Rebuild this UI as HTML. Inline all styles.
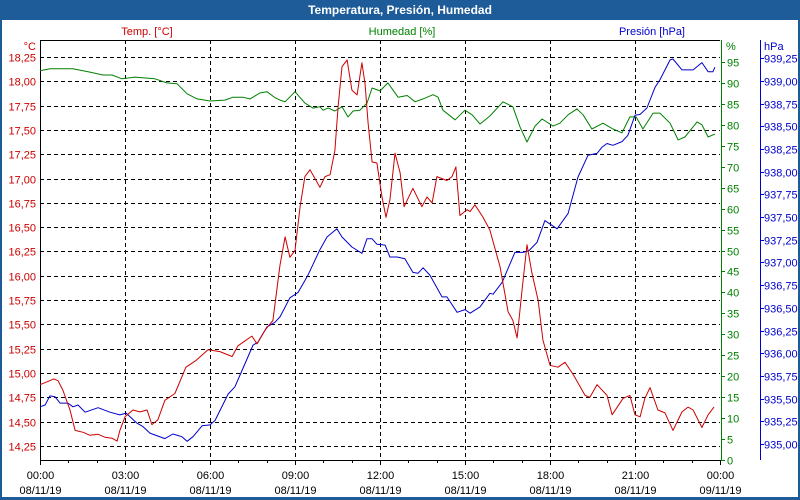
<!DOCTYPE html>
<html><head><meta charset="utf-8"><style>
html,body{margin:0;padding:0;background:#fff;}
svg{display:block;font-family:"Liberation Sans",sans-serif;}
</style></head><body>
<svg id="chart" width="800" height="500" viewBox="0 0 800 500">
<rect x="0" y="0" width="800" height="500" fill="#1d5c98"/>
<rect x="2" y="20" width="796" height="477" fill="#ffffff"/>
<text x="400" y="14" text-anchor="middle" font-size="12" font-weight="bold" fill="#fff">Temperatura, Presión, Humedad</text>
<text x="147" y="35" text-anchor="middle" font-size="11" fill="#cc0000">Temp. [°C]</text>
<text x="402" y="35" text-anchor="middle" font-size="11" fill="#008000">Humedad [%]</text>
<text x="685" y="35" text-anchor="end" font-size="11" fill="#0000cc">Presión [hPa]</text>
<text x="36" y="50" text-anchor="end" font-size="11" fill="#cc0000">°C</text>
<text x="726" y="50" font-size="11" fill="#008000">%</text>
<text x="764" y="50" font-size="11" fill="#0000cc">hPa</text>
<g id="grid"></g>
<g id="axes"></g>
<g id="series"></g>
</svg>
<script>
const tempH=[0,0.25,0.49,0.64,0.81,1.06,1.24,1.52,1.76,2.05,2.29,2.54,2.72,2.82,3.00,3.28,3.53,3.78,3.95,4.16,4.41,4.76,5.15,5.51,5.93,6.35,6.78,6.99,7.48,7.66,7.94,8.22,8.47,8.65,8.82,9.00,9.18,9.35,9.53,9.88,10.06,10.24,10.41,10.52,10.66,10.84,11.01,11.19,11.36,11.47,11.58,11.72,11.89,12.07,12.21,12.35,12.53,12.71,12.85,13.16,13.48,13.66,13.84,14.01,14.36,14.54,14.68,14.82,15.07,15.18,15.35,15.64,15.88,16.24,16.52,16.69,16.84,17.01,17.19,17.36,17.58,17.75,18.00,18.28,18.53,18.81,19.24,19.41,19.66,20.01,20.19,20.58,20.82,21.00,21.18,21.35,21.53,21.81,22.06,22.34,22.66,22.87,23.05,23.36,23.58,23.79];
const tempV=[14.88,14.91,14.94,14.92,14.82,14.62,14.41,14.39,14.36,14.37,14.34,14.33,14.30,14.41,14.55,14.62,14.60,14.62,14.47,14.52,14.72,14.79,15.06,15.13,15.24,15.22,15.17,15.28,15.38,15.30,15.44,15.54,16.11,16.40,16.19,16.26,16.71,17.02,17.09,16.91,17.02,17.04,17.29,17.74,18.15,18.22,17.91,17.86,18.19,17.98,17.57,17.17,17.16,16.81,16.60,16.78,17.26,17.06,16.71,16.90,16.71,16.81,16.75,17.02,16.98,17.02,17.12,16.62,16.68,16.66,16.73,16.60,16.47,16.09,15.63,15.54,15.36,15.85,16.32,16.03,15.75,15.34,15.08,15.06,15.11,14.99,14.77,14.75,14.88,14.77,14.57,14.74,14.77,14.57,14.55,14.74,14.85,14.62,14.59,14.41,14.60,14.65,14.62,14.44,14.57,14.65];
const humH=[0,0.35,1.16,1.76,2.22,2.54,2.89,3.35,4.06,4.48,4.84,5.19,5.54,6.00,6.53,6.81,7.16,7.41,7.76,8.01,8.29,8.47,8.65,9.00,9.35,9.63,9.88,9.99,10.17,10.41,10.66,10.87,11.05,11.29,11.54,11.72,12.00,12.28,12.64,12.96,13.24,13.52,13.87,14.05,14.22,14.65,15.00,15.25,15.53,15.88,16.34,16.69,16.94,17.19,17.47,17.72,18.11,18.35,18.64,18.95,19.17,19.48,19.87,20.22,20.54,20.82,21.04,21.28,21.64,21.88,22.24,22.52,22.76,23.19,23.36,23.58,23.82];
const humV=[92.9,93.4,93.4,92.6,91.9,91.9,91.0,91.4,91.0,90.0,89.8,87.4,86.2,85.7,85.9,86.6,86.6,86.2,87.6,87.9,86.5,85.9,85.5,87.9,85.2,84.0,84.3,83.5,84.0,83.3,84.3,81.9,83.3,83.5,85.2,88.8,88.1,90.0,86.6,87.0,85.5,86.2,87.2,86.6,83.5,81.2,83.5,82.4,80.2,82.1,85.5,84.3,79.5,75.9,79.7,81.4,79.7,80.4,82.4,83.8,82.4,79.0,80.4,79.0,78.1,81.9,81.9,79.0,82.8,82.8,80.4,76.4,77.1,80.7,80.0,77.1,77.8];
const presH=[0,0.18,0.35,0.53,0.71,0.99,1.16,1.34,1.59,2.05,2.47,2.82,3.04,3.42,3.64,3.88,4.41,4.69,5.01,5.19,5.40,5.72,6.00,6.18,6.64,6.88,7.13,7.52,7.69,8.01,8.29,8.47,8.82,9.11,9.46,9.88,10.13,10.48,10.66,11.01,11.36,11.54,11.72,11.89,12.18,12.35,12.60,12.88,13.16,13.34,13.52,13.76,14.19,14.36,14.72,15.00,15.18,15.53,15.88,15.99,16.31,16.76,17.05,17.26,17.54,17.82,18.25,18.64,18.99,19.34,19.66,19.84,20.01,20.22,20.54,20.75,21.00,21.18,21.42,21.71,21.88,22.24,22.34,22.66,23.05,23.36,23.58,23.75,23.82];
const presV=[935.41,935.43,935.53,935.52,935.45,935.45,935.41,935.43,935.35,935.40,935.35,935.32,935.34,935.23,935.19,935.12,935.06,935.11,935.08,935.03,935.08,935.20,935.21,935.26,935.55,935.63,935.81,936.09,936.12,936.29,936.34,936.40,936.61,936.67,936.86,937.14,937.28,937.37,937.28,937.17,937.10,937.26,937.26,937.20,937.19,937.06,937.06,937.04,936.89,936.88,936.94,936.86,936.62,936.62,936.45,936.48,936.44,936.51,936.66,936.65,936.78,937.11,937.11,937.13,937.22,937.46,937.37,937.54,937.94,938.18,938.20,938.27,938.31,938.29,938.33,938.40,938.62,938.63,938.70,938.93,939.01,939.23,939.24,939.12,939.12,939.20,939.10,939.10,939.15];
const tempTicks=[14.25,14.5,14.75,15,15.25,15.5,15.75,16,16.25,16.5,16.75,17,17.25,17.5,17.75,18,18.25];
const humTicks=[0,5,10,15,20,25,30,35,40,45,50,55,60,65,70,75,80,85,90,95];
const presTicks=[935,935.25,935.5,935.75,936,936.25,936.5,936.75,937,937.25,937.5,937.75,938,938.25,938.5,938.75,939,939.25];
const timeTicks=[0,3,6,9,12,15,18,21,24];
const timeLabels=["00:00","03:00","06:00","09:00","12:00","15:00","18:00","21:00","00:00"];
const dateLabels=["08/11/19","08/11/19","08/11/19","08/11/19","08/11/19","08/11/19","08/11/19","08/11/19","09/11/19"];

const NS="http://www.w3.org/2000/svg";
const X0=40,X1=720,Y0=40,Y1=460;
function xS(h){return X0+h*(X1-X0)/24;}
function yT(t){return 57+(18.25-t)/0.25*24.31;}
function yH(v){return 460-v*398/95;}
function yP(p){return 444-(p-935)/0.25*22.7;}
function mk(tag,attrs,parent){const e=document.createElementNS(NS,tag);for(const k in attrs)e.setAttribute(k,attrs[k]);parent.appendChild(e);return e;}
const grid=document.getElementById('grid'),axes=document.getElementById('axes'),series=document.getElementById('series');
function fmt(v){return v.toFixed(2).replace('.',',');}

tempTicks.forEach(t=>{
  const y=Math.round(yT(t))+0.5;
  const l=mk('line',{x1:X0,x2:X1,y1:y,y2:y,stroke:'#000','stroke-dasharray':'4,3','stroke-width':1},grid);
  
  
  const tx=mk('text',{x:36,y:y+4,'text-anchor':'end','font-size':11,fill:'#cc0000'},axes);
  tx.textContent=fmt(t);
  
  
});
timeTicks.forEach((h,i)=>{
  const x=Math.round(xS(h))+0.5;
  if(i>0&&i<timeTicks.length-1){
    const l=mk('line',{x1:x,x2:x,y1:Y0,y2:Y1,stroke:'#000','stroke-dasharray':'4,3'},grid);
    
    
  }
  const t1=mk('text',{x:x,y:479,'text-anchor':'middle','font-size':11,fill:'#000'},axes);
  t1.textContent=timeLabels[i];
  
  
  const t2=mk('text',{x:x,y:494,'text-anchor':'middle','font-size':11,fill:'#000'},axes);
  t2.textContent=dateLabels[i];
  
  
});
for(let h=0;h<=24;h++){
  const x=Math.round(xS(h))+0.5;
  const l=mk('line',{x1:x,x2:x,y1:Y1,y2:Y1+(h%3==0?5:3),stroke:'#000'},axes);
  
  
}
humTicks.forEach(v=>{
  const y=Math.round(yH(v))+0.5;
  const l=mk('line',{x1:721,x2:725,y1:y,y2:y,stroke:'#008000'},axes);
  
  
  const tx=mk('text',{x:727,y:y+4,'font-size':11,fill:'#008000'},axes);
  tx.textContent=String(v);
  
  
});
presTicks.forEach(p=>{
  const y=Math.round(yP(p))+0.5;
  const l=mk('line',{x1:760,x2:764,y1:y,y2:y,stroke:'#0000cc'},axes);
  
  
  const tx=mk('text',{x:764,y:y+4,'font-size':11,fill:'#0000cc'},axes);
  tx.textContent=fmt(p);
  
  
});
[[X0+0.5,Y0,X0+0.5,Y1+1,'#000','temp-axis-line'],[X0,Y0+0.5,X1,Y0+0.5,'#000','top-frame'],[X0,Y1+0.5,X1+1,Y1+0.5,'#000','x-axis-line'],[721.5,Y0,721.5,Y1,'#008000','humidity-axis-line'],[760.5,Y0,760.5,Y1,'#0000cc','pressure-axis-line']].forEach(a=>{
  const l=mk('line',{x1:a[0],y1:a[1],x2:a[2],y2:a[3],stroke:a[4],'stroke-width':1},axes);
  
  
});
function path(hs,vs,yf,color,name){
  const d=hs.map((h,i)=>(i?'L':'M')+xS(h).toFixed(1)+','+yf(vs[i]).toFixed(1)).join('');
  const p=mk('path',{d:d,fill:'none',stroke:color,'stroke-width':1,'stroke-linejoin':'round'},series);
  
  
}
path(humH,humV,yH,'#008000','humidity-line');
path(presH,presV,yP,'#0000cc','pressure-line');
path(tempH,tempV,yT,'#cc0000','temperature-line');
</script>
</body></html>
